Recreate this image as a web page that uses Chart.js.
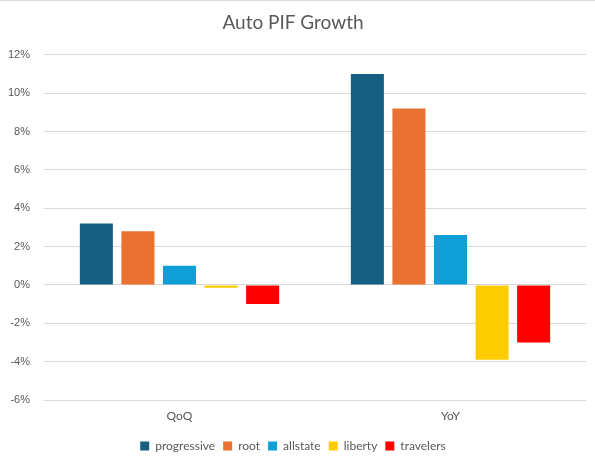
<!DOCTYPE html>
<html lang="en">
<head>
  <meta charset="UTF-8" />
  <title>Auto PIF Growth</title>
  <script src="https://cdn.jsdelivr.net/npm/chart.js"></script>
  <style>
    html, body { margin: 0; padding: 0; background: #fff; }
    body { width: 595px; height: 465px; border-top: 1px solid #d9d9d9; box-sizing: border-box; }
    #wrap { width: 595px; height: 464px; }
  </style>
</head>
<body>
  <div id="wrap"><canvas id="pifChart"></canvas></div>

  <script>
    const periods = ["QoQ", "YoY"];
    const carriers = ["progressive", "root", "allstate", "liberty", "travelers"];
    const colores = ["#156082", "#E97132", "#0F9ED5", "#FFCC00", "#FF0000"];
    // growth in %
    const progressive = [3.2, 11.0];
    const root = [2.8, 9.2];
    const allstate = [1.0, 2.6];
    const liberty = [-0.15, -3.9];
    const travelers = [-1.0, -3.0];
    const yTicks = [-6, -4, -2, 0, 2, 4, 6, 8, 10, 12];

    const series = [progressive, root, allstate, liberty, travelers];
    const gris = "#595959";

    new Chart(document.getElementById("pifChart"), {
      type: "bar",
      data: {
        labels: periods,
        datasets: carriers.map((c, i) => ({
          label: c,
          data: series[i],
          backgroundColor: colores[i],
          borderWidth: 0,
          categoryPercentage: 0.767,
          barPercentage: 0.795
        }))
      },
      options: {
        responsive: true,
        maintainAspectRatio: false,
        animation: false,
        layout: { padding: { left: 0, right: 9, top: 0, bottom: 3 } },
        plugins: {
          title: {
            display: true,
            text: "Auto PIF Growth",
            color: gris,
            font: { family: "Lato", size: 19, weight: "normal" },
            padding: { top: 10, bottom: 21 }
          },
          legend: {
            position: "bottom",
            labels: {
              color: gris,
              font: { family: "Lato", size: 12 },
              boxWidth: 9,
              boxHeight: 9,
              padding: 8
            }
          },
          tooltip: { enabled: false }
        },
        scales: {
          x: {
            grid: { display: false },
            border: { display: false },
            ticks: { color: gris, font: { family: "Lato", size: 12 }, padding: 1 },
            afterFit: s => { s.height = 32; }
          },
          y: {
            min: -6,
            max: 12,
            afterBuildTicks: s => { s.ticks = yTicks.map(v => ({ value: v })); },
            grid: { color: "#d9d9d9", lineWidth: 1, drawTicks: false },
            border: { display: false },
            ticks: {
              color: gris,
              font: { family: "Liberation Sans", size: 11 },
              padding: 14,
              callback: v => v + "%"
            },
            afterFit: s => { s.width = 44; }
          }
        }
      }
    });
  </script>
</body>
</html>
